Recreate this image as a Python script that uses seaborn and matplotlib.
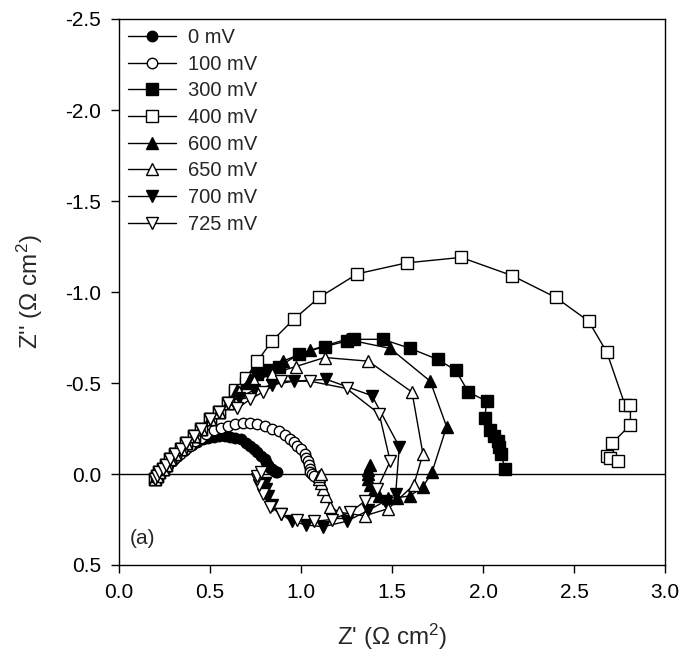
import matplotlib
matplotlib.use("Agg")
import matplotlib.pyplot as plt
import seaborn as sns
import numpy as np
import pandas as pd
from matplotlib.ticker import FormatStrFormatter

# ---------------- data ----------------
labels = ["0 mV", "100 mV", "300 mV", "400 mV", "600 mV", "650 mV", "700 mV", "725 mV"]

band_x = [0.20, 0.21, 0.22, 0.24, 0.26, 0.28, 0.31, 0.34, 0.37, 0.41, 0.45, 0.50, 0.55, 0.60]
band_y = [0.03, 0.01, -0.01, -0.03, -0.05, -0.08, -0.11, -0.14, -0.17, -0.21, -0.25, -0.30, -0.34, -0.39]

x_0 = [0.20, 0.205, 0.21, 0.22, 0.23, 0.24, 0.255, 0.27, 0.285, 0.30, 0.32, 0.34, 0.36, 0.38, 0.40,
       0.43, 0.46, 0.49, 0.52, 0.55, 0.58, 0.61, 0.64, 0.67, 0.70, 0.72, 0.74, 0.76, 0.78, 0.80,
       0.81, 0.82, 0.83, 0.84, 0.85, 0.86, 0.87]
y_0 = [0.03, 0.02, 0.01, 0.0, -0.01, -0.025, -0.04, -0.055, -0.07, -0.085, -0.10, -0.12, -0.135,
       -0.15, -0.16, -0.175, -0.19, -0.20, -0.205, -0.21, -0.21, -0.205, -0.20, -0.19, -0.17,
       -0.155, -0.14, -0.12, -0.10, -0.08, -0.065, -0.05, -0.035, -0.025, -0.015, -0.01, -0.01]

x_100 = [0.20, 0.21, 0.22, 0.235, 0.25, 0.27, 0.29, 0.31, 0.335, 0.36, 0.39, 0.42, 0.45, 0.48, 0.52,
         0.56, 0.60, 0.64, 0.68, 0.72, 0.76, 0.80, 0.84, 0.88, 0.91, 0.94, 0.96, 0.98, 1.00, 1.02,
         1.03, 1.04, 1.045, 1.05, 1.05, 1.06, 1.07]
y_100 = [0.03, 0.015, 0.0, -0.015, -0.03, -0.05, -0.07, -0.09, -0.11, -0.13, -0.155, -0.18, -0.20,
         -0.22, -0.24, -0.255, -0.265, -0.275, -0.28, -0.28, -0.275, -0.265, -0.25, -0.235, -0.215,
         -0.195, -0.175, -0.155, -0.135, -0.11, -0.09, -0.07, -0.05, -0.03, -0.01, 0.0, 0.01]

x_300 = band_x + [0.64, 0.70, 0.76, 0.82, 0.88, 0.99, 1.13, 1.25, 1.29, 1.45, 1.60, 1.75, 1.85, 1.92,
                  2.02, 2.01, 2.04, 2.06, 2.08, 2.09, 2.10, 2.12]
y_300 = band_y + [-0.45, -0.50, -0.55, -0.57, -0.59, -0.66, -0.70, -0.73, -0.74, -0.74, -0.69, -0.63,
                  -0.57, -0.45, -0.40, -0.31, -0.24, -0.21, -0.18, -0.15, -0.11, -0.03]

x_400 = band_x + [0.64, 0.70, 0.76, 0.84, 0.96, 1.10, 1.31, 1.58, 1.88, 2.16, 2.40, 2.58, 2.68, 2.78,
                  2.81, 2.81, 2.71, 2.68, 2.70, 2.74]
y_400 = band_y + [-0.46, -0.53, -0.62, -0.73, -0.85, -0.97, -1.10, -1.16, -1.19, -1.09, -0.97, -0.84,
                  -0.67, -0.38, -0.38, -0.27, -0.17, -0.10, -0.09, -0.07]

x_600 = band_x + [0.65, 0.72, 0.80, 0.90, 1.05, 1.25, 1.49, 1.71, 1.80, 1.72, 1.67, 1.60, 1.53, 1.48,
                  1.43, 1.40, 1.38, 1.37, 1.37, 1.37, 1.38]
y_600 = band_y + [-0.46, -0.52, -0.57, -0.62, -0.68, -0.74, -0.69, -0.51, -0.26, -0.01, 0.07, 0.12,
                  0.13, 0.13, 0.12, 0.09, 0.06, 0.03, 0.0, -0.02, -0.05]

x_650 = band_x + [0.66, 0.74, 0.84, 0.97, 1.13, 1.37, 1.61, 1.67, 1.62, 1.48, 1.35, 1.21, 1.16, 1.14,
                  1.12, 1.11, 1.10, 1.10, 1.11]
y_650 = band_y + [-0.45, -0.51, -0.55, -0.59, -0.64, -0.62, -0.45, -0.11, 0.06, 0.19, 0.23, 0.21,
                  0.18, 0.12, 0.08, 0.05, 0.03, 0.01, 0.0]

x_700 = band_x + [0.66, 0.74, 0.84, 0.96, 1.14, 1.39, 1.54, 1.52, 1.46, 1.37, 1.25, 1.12, 1.03, 0.95,
                  0.89, 0.84, 0.82, 0.81, 0.80]
y_700 = band_y + [-0.42, -0.46, -0.49, -0.51, -0.52, -0.43, -0.15, 0.11, 0.15, 0.20, 0.26, 0.29,
                  0.28, 0.26, 0.22, 0.17, 0.12, 0.08, 0.05]

x_725 = band_x + [0.65, 0.72, 0.79, 0.89, 1.05, 1.25, 1.43, 1.49, 1.42, 1.35, 1.27, 1.17, 1.07, 0.98,
                  0.89, 0.83, 0.79, 0.77, 0.76, 0.76, 0.78]
y_725 = band_y + [-0.36, -0.41, -0.45, -0.51, -0.51, -0.47, -0.33, -0.07, 0.08, 0.15, 0.21, 0.25,
                  0.26, 0.25, 0.22, 0.18, 0.11, 0.06, 0.03, 0.01, -0.01]

xs = [x_0, x_100, x_300, x_400, x_600, x_650, x_700, x_725]
ys = [y_0, y_100, y_300, y_400, y_600, y_650, y_700, y_725]

xticks = [0.0, 0.5, 1.0, 1.5, 2.0, 2.5, 3.0]
yticks = [-2.5, -2.0, -1.5, -1.0, -0.5, 0.0, 0.5]

# ---------------- styling ----------------
markers = ["o", "o", "s", "s", "^", "^", "v", "v"]
faces = ["black", "white", "black", "white", "black", "white", "black", "white"]
msizes = [7.5, 7.5, 8.3, 8.3, 9.3, 9.3, 9.3, 9.3]

sns.set_style("ticks")
plt.rcParams["font.family"] = ["Liberation Sans", "DejaVu Sans"]
plt.rcParams["mathtext.fontset"] = "custom"
plt.rcParams["mathtext.rm"] = "Liberation Sans"
plt.rcParams["mathtext.default"] = "regular"

fig = plt.figure(figsize=(6.84, 6.62), dpi=100)
ax = fig.add_axes([119 / 684, 1 - 565 / 662, 546 / 684, 546 / 662])

ax.axhline(0, color="black", lw=1.0, zorder=1)

for i, lab in enumerate(labels):
    df = pd.DataFrame({"x": xs[i], "y": ys[i]})
    sns.lineplot(data=df, x="x", y="y", sort=False, estimator=None, ax=ax,
                 color="black", lw=1.0, marker=markers[i], markersize=msizes[i],
                 markerfacecolor=faces[i], markeredgecolor="black", markeredgewidth=1.0,
                 label=lab, zorder=2 + i)

ax.set_xlim(0.0, 3.0)
ax.set_ylim(0.5, -2.5)
ax.set_xticks(xticks)
ax.set_yticks(yticks)
ax.xaxis.set_major_formatter(FormatStrFormatter("%.1f"))
ax.yaxis.set_major_formatter(FormatStrFormatter("%.1f"))
ax.tick_params(axis="both", which="major", direction="out", length=6, width=1,
               labelsize=15, pad=7, colors="black", top=False, right=False)
for s in ax.spines.values():
    s.set_visible(True)
    s.set_linewidth(1.0)
    s.set_color("black")

ax.set_xlabel("Z' (Ω cm$^2$)", fontsize=17.5, labelpad=14)
ax.set_ylabel("Z'' (Ω cm$^2$)", fontsize=17.5, labelpad=14)

ax.text(0.06, 0.355, "(a)", fontsize=15, ha="left", va="center")

leg = ax.legend(loc="upper left", frameon=False, fontsize=14.5, handlelength=2.4,
                labelspacing=0.38, borderaxespad=0.0, handletextpad=0.6,
                borderpad=0.45)

fig.savefig("out.png", dpi=100)
